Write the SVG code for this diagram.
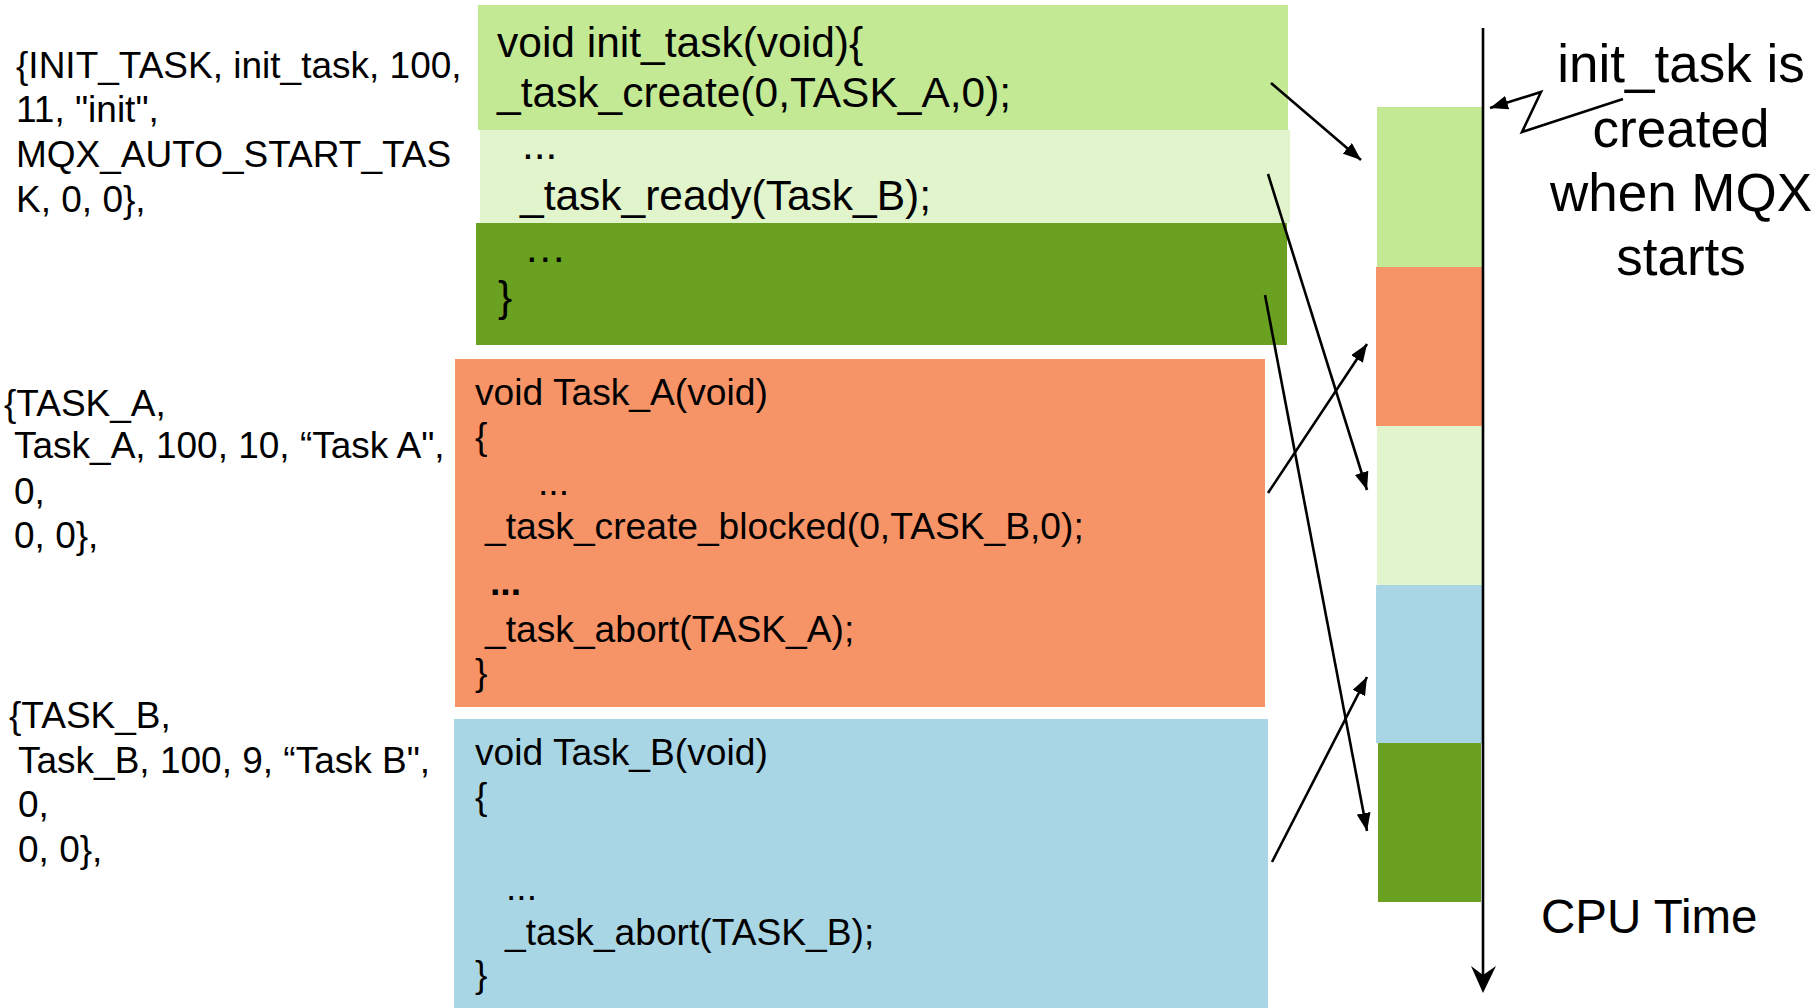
<svg xmlns="http://www.w3.org/2000/svg" width="1816" height="1008" viewBox="0 0 1816 1008">
<style>
text{font-family:"Liberation Sans",Arial,sans-serif;fill:#000}
.def{font-size:37px}
.c42{font-size:42.5px}
.c37{font-size:37.2px}
.note{font-size:53px;text-anchor:middle}
.cpu{font-size:47.5px}
.conn{stroke:#000;stroke-width:2.6;fill:none}
.lg{fill:#C4E994}
.pg{fill:#E1F4CB}
.dg{fill:#6AA121}
.or{fill:#F79467}
.bl{fill:#A9D6E5}
</style>
<defs>
<marker id="ah" markerUnits="userSpaceOnUse" markerWidth="18" markerHeight="14" refX="18" refY="7" orient="auto">
<path d="M0,0 L18,7 L0,14 z" fill="#000"/>
</marker>
</defs>
<rect width="1816" height="1008" fill="#fff"/>

<g id="init-task-def">
<text class="def" x="16" y="78">{INIT_TASK, init_task, 100,</text>
<text class="def" x="16" y="122">11, "init",</text>
<text class="def" x="16" y="167">MQX_AUTO_START_TAS</text>
<text class="def" x="16" y="212">K, 0, 0},</text>
</g>

<g id="task-a-def">
<text class="def" x="4" y="416">{TASK_A,</text>
<text class="def" x="14" y="458">Task_A, 100, 10, “Task A",</text>
<text class="def" x="14" y="504">0,</text>
<text class="def" x="14" y="548">0, 0},</text>
</g>

<g id="task-b-def">
<text class="def" x="9" y="728">{TASK_B,</text>
<text class="def" x="18" y="773">Task_B, 100, 9, “Task B",</text>
<text class="def" x="18" y="817">0,</text>
<text class="def" x="18" y="862">0, 0},</text>
</g>

<g id="init-task-code">
<rect class="lg" x="478" y="5" width="810" height="125"/>
<rect class="pg" x="480" y="130" width="810" height="93"/>
<rect class="dg" x="476" y="223" width="811" height="122"/>
<text class="c42" x="497" y="57">void init_task(void){</text>
<text class="c42" x="497" y="107">_task_create(0,TASK_A,0);</text>
<text class="c42" x="522" y="159">...</text>
<text class="c42" x="520" y="210">_task_ready(Task_B);</text>
<text class="c42" x="524" y="262">…</text>
<text class="c42" x="498" y="311">}</text>
</g>

<g id="task-a-code">
<rect class="or" x="455" y="359" width="810" height="348"/>
<text class="c37" x="475" y="405">void Task_A(void)</text>
<text class="c37" x="475" y="449">{</text>
<text class="c37" x="538" y="495">...</text>
<text class="c37" x="485" y="539">_task_create_blocked(0,TASK_B,0);</text>
<text class="c37" x="490" y="595" font-weight="bold">...</text>
<text class="c37" x="485" y="642">_task_abort(TASK_A);</text>
<text class="c37" x="475" y="685">}</text>
</g>

<g id="task-b-code">
<rect class="bl" x="454" y="719" width="814" height="289"/>
<text class="c37" x="475" y="765">void Task_B(void)</text>
<text class="c37" x="475" y="809">{</text>
<text class="c37" x="506" y="900">...</text>
<text class="c37" x="505" y="945">_task_abort(TASK_B);</text>
<text class="c37" x="475" y="987">}</text>
</g>

<g id="cpu-timeline">
<rect class="lg" x="1377" y="107" width="106" height="160"/>
<rect class="or" x="1376" y="267" width="107" height="159"/>
<rect class="pg" x="1377" y="426" width="106" height="159"/>
<rect class="bl" x="1376" y="585" width="107" height="158"/>
<rect class="dg" x="1378" y="743" width="103" height="159"/>
<line x1="1483" y1="28" x2="1483" y2="975" stroke="#000" stroke-width="2.6"/>
<path d="M1483,993 L1471,966 L1483,975 L1496,966 z" fill="#000"/>
<text class="cpu" x="1541" y="933">CPU Time</text>
</g>

<g id="init-note">
<text class="note" x="1681" y="82">init_task is</text>
<text class="note" x="1681" y="147">created</text>
<text class="note" x="1681" y="211">when MQX</text>
<text class="note" x="1681" y="275">starts</text>
</g>

<g id="connectors">
<line class="conn" x1="1271" y1="83" x2="1361" y2="160" marker-end="url(#ah)"/>
<line class="conn" x1="1268" y1="174" x2="1367" y2="490" marker-end="url(#ah)"/>
<line class="conn" x1="1265" y1="295" x2="1367" y2="831" marker-end="url(#ah)"/>
<line class="conn" x1="1268" y1="493" x2="1367" y2="344" marker-end="url(#ah)"/>
<line class="conn" x1="1272" y1="862" x2="1367" y2="677" marker-end="url(#ah)"/>
<polyline class="conn" points="1623,99 1522,132 1541,92 1490,108" marker-end="url(#ah)"/>
</g>
</svg>
